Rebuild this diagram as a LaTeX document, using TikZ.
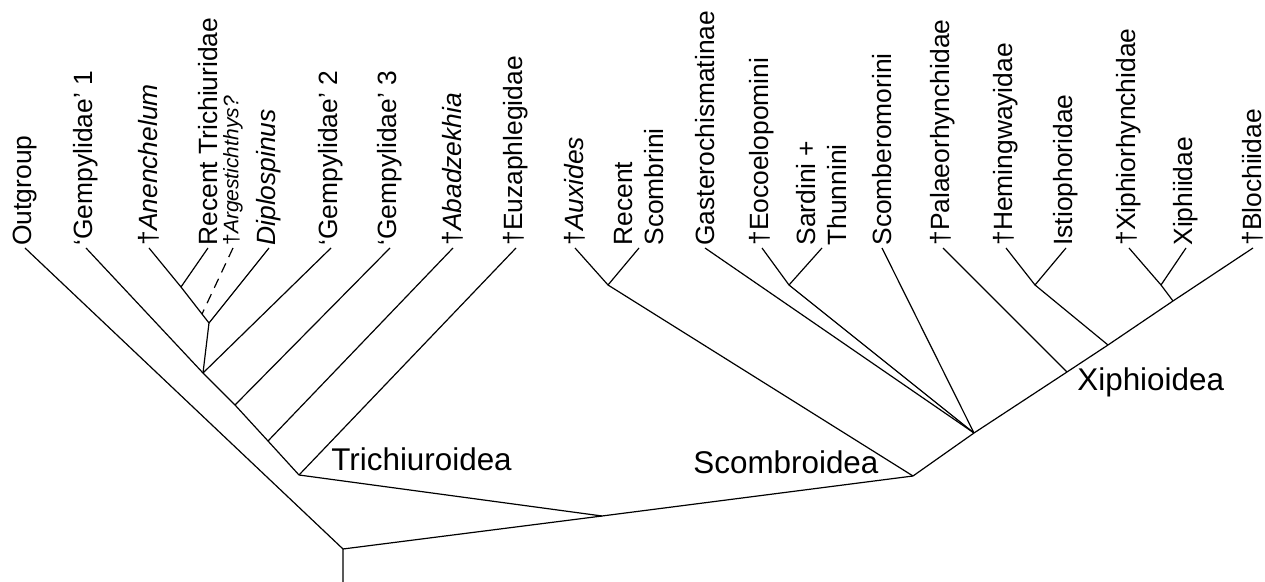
\documentclass[tikz,border=0pt]{standalone}
\usepackage{fontspec}
\setmainfont{Liberation Sans}
\usetikzlibrary{calc}

\begin{document}
\begin{tikzpicture}[x=0.5pt,y=-0.5pt,
        branch/.style={line width=0.6pt},
        taxon/.style={rotate=90,anchor=west,inner sep=1pt,align=left,font=\fontsize{13.2}{15.5}\selectfont},
        smalltaxon/.style={taxon,font=\fontsize{10.5}{12.5}\selectfont},
        clade/.style={anchor=base west,inner sep=0pt,font=\fontsize{15.7}{18}\selectfont}]
        \useasboundingbox (0,0) rectangle (1265,582);

        % inner nodes
        \coordinate (root) at (343,549);
        \coordinate (rootbase) at (343,582);
        \coordinate (ts) at (602,516);
        \coordinate (trich) at (299,475);
        \coordinate (nabad) at (268,441);
        \coordinate (ngemb) at (235,405);
        \coordinate (ngema) at (203,373);
        \coordinate (ndip) at (209,323);
        \coordinate (nrec) at (181,287);
        \coordinate (scomb) at (913,476);
        \coordinate (naux) at (608,285);
        \coordinate (xiph) at (974,433);
        \coordinate (neoc) at (789,285);
        \coordinate (npal) at (1067,372);
        \coordinate (nhem) at (1108,345);
        \coordinate (nist) at (1035,285);
        \coordinate (nxr) at (1173,301);
        \coordinate (nxi) at (1161,285);

        % tips
        \node[taxon] (outg) at (25,248) {Outgroup};
        \node[taxon] (gem1) at (86,248) {‘Gempylidae’ 1};
        \node[taxon] (anen) at (149,248) {†\textit{Anenchelum}};
        \node[taxon] (rectr) at (208,248) {Recent Trichiuridae};
        \node[smalltaxon] (arg) at (233,248) {†\textit{Argestichthys?}};
        \node[taxon] (dipl) at (269,248) {\textit{Diplospinus}};
        \node[taxon] (gem2) at (331,248) {‘Gempylidae’ 2};
        \node[taxon] (gem3) at (390,248) {‘Gempylidae’ 3};
        \node[taxon] (abad) at (453,248) {†\textit{Abadzekhia}};
        \node[taxon] (euz) at (516,248) {†Euzaphlegidae};
        \node[taxon] (aux) at (575,248) {†\textit{Auxides}};
        \node[taxon] (recsc) at (639,248) {Recent\\Scombrini};
        \node[taxon] (gast) at (705,248) {Gasterochismatinae};
        \node[taxon] (eoc) at (762,248) {†Eocoelopomini};
        \node[taxon] (sard) at (822,248) {Sardini +\\Thunnini};
        \node[taxon] (scomber) at (882,248) {Scomberomorini};
        \node[taxon] (pal) at (943,248) {†Palaeorhynchidae};
        \node[taxon] (hem) at (1006,248) {†Hemingwayidae};
        \node[taxon] (ist) at (1066,248) {Istiophoridae};
        \node[taxon] (xr) at (1129,248) {†Xiphiorhynchidae};
        \node[taxon] (xi) at (1186,248) {Xiphiidae};
        \node[taxon] (bloch) at (1253,248) {†Blochiidae};

        % backbone
        \draw[branch] (rootbase) -- (root) -- (outg.west);
        \draw[branch] (root) -- (ts) -- (scomb);
        \draw[branch] (ts) -- (trich);

        % Trichiuroidea
        \draw[branch] (trich) -- (nabad) -- (ngemb) -- (ngema) -- (gem1.west);
        \draw[branch] (trich) -- (euz.west);
        \draw[branch] (nabad) -- (abad.west);
        \draw[branch] (ngemb) -- (gem3.west);
        \draw[branch] (ngema) -- (gem2.west);
        \draw[branch] (ngema) -- (ndip) -- (dipl.west);
        \draw[branch] (ndip) -- (nrec) -- (anen.west);
        \draw[branch] (nrec) -- (rectr.west);
        \draw[branch,dash pattern=on 5pt off 3.5pt] (arg.west) -- ($(ndip)!0.25!(nrec)!0!(anen.west)$);

        % Scombroidea
        \draw[branch] (scomb) -- (naux) -- (aux.west);
        \draw[branch] (naux) -- (recsc.west);
        \draw[branch] (scomb) -- (xiph);
        \draw[branch] (xiph) -- (gast.west);
        \draw[branch] (xiph) -- (neoc) -- (eoc.west);
        \draw[branch] (neoc) -- (sard.west);
        \draw[branch] (xiph) -- (scomber.west);

        % Xiphioidea
        \draw[branch] (xiph) -- (npal) -- (nhem) -- (nxr) -- (bloch.west);
        \draw[branch] (npal) -- (pal.west);
        \draw[branch] (nhem) -- (nist) -- (hem.west);
        \draw[branch] (nist) -- (ist.west);
        \draw[branch] (nxr) -- (nxi) -- (xr.west);
        \draw[branch] (nxi) -- (xi.west);

        \node[clade] (trichlab) at (331,471) {Trichiuroidea};
        \node[clade] (scomblab) at (693,474) {Scombroidea};
        \node[clade] (xiphlab) at (1077,391) {Xiphioidea};
\end{tikzpicture}
\end{document}
